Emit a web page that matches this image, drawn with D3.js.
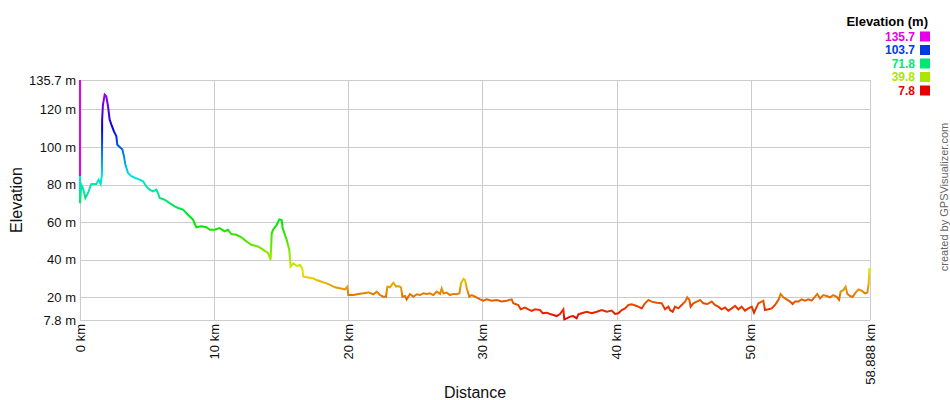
<!DOCTYPE html>
<html>
<head>
<meta charset="utf-8">
<script src="https://cdn.jsdelivr.net/npm/d3@7"></script>
<style>
  html, body { margin: 0; padding: 0; background: #fff; }
  svg { display: block; font-family: "Liberation Sans", Arial, sans-serif; }
</style>
</head>
<body>
<svg id="chart" width="950" height="400"></svg>
<script>
// ---- data ----
const distKm = [
  0, 0, 0, 0.10, 0.22, 0.40, 0.60, 0.84, 1.22, 1.39, 1.54, 1.64, 1.65, 1.71, 1.84, 1.96, 2.09, 2.21, 2.34, 2.53, 2.71,
  2.78, 2.96, 3.16, 3.28, 3.38, 3.58, 3.83, 4.12, 4.45, 4.70, 4.94, 5.19, 5.44, 5.69, 5.81, 5.94, 6.31, 6.68, 7.06, 7.31,
  7.68, 8.05, 8.42, 8.67, 9.04, 9.42, 9.67, 10.04, 10.41, 10.78, 11.03, 11.28, 11.65, 12.03, 12.40, 12.77, 13.27, 13.64, 14.01, 14.21,
  14.29, 14.41, 14.66, 14.86, 15.03, 15.11, 15.28, 15.41, 15.60, 15.70, 15.90, 16.15, 16.40, 16.57, 16.65, 17.02, 17.39, 17.64, 18.01, 18.39,
  18.64, 19.01, 19.38, 19.75, 19.93, 20.00, 20.38, 20.75, 21.12, 21.50, 21.87, 22.12, 22.36, 22.61, 22.81, 22.91, 23.11, 23.36, 23.56, 23.73,
  23.93, 24.03, 24.23, 24.35, 24.60, 24.85, 25.10, 25.35, 25.59, 25.84, 26.09, 26.34, 26.59, 26.84, 26.96, 27.09, 27.33, 27.58, 27.83, 28.08,
  28.28, 28.40, 28.58, 28.70, 28.83, 29.02, 29.20, 29.45, 29.70,
  29.82, 30.07, 30.31, 30.69, 31.06, 31.43, 31.81, 32.18, 32.30, 32.67, 32.85, 33.17, 33.42, 33.67, 33.92, 34.29, 34.49, 34.79, 35.04, 35.29,
  35.53, 35.78, 36.03, 36.10, 36.28, 36.53, 36.77, 37.02, 37.15, 37.40, 37.77, 38.15, 38.52, 38.89, 39.27, 39.64, 39.88, 40.13, 40.38, 40.63,
  40.88, 41.12, 41.50, 41.87, 42.12, 42.37, 42.61, 42.99, 43.36, 43.61, 43.86,
  43.98, 44.18, 44.35, 44.60, 44.85, 45.10, 45.27, 45.42, 45.52, 45.72, 45.97, 46.22, 46.46, 46.76, 47.09, 47.33, 47.58, 47.83, 48.08, 48.33,
  48.58, 48.83, 49.08, 49.32, 49.57, 49.82, 50.07, 50.24, 50.39, 50.57, 50.81, 50.94, 51.06, 51.31, 51.56, 51.81, 52.06, 52.23, 52.43, 52.68,
  52.93, 53.12, 53.30, 53.55, 53.79, 54.04, 54.29, 54.54, 54.79, 54.96, 55.16, 55.41, 55.66, 55.91, 56.15, 56.40, 56.58, 56.70, 56.90, 57.07,
  57.20, 57.40, 57.60, 57.77, 58.02, 58.27, 58.52, 58.69, 58.79, 58.84, 58.888
];
const elevM = [
  135.7, 84.5, 70.0, 79.9, 78.1, 72.8, 75.5, 80.3, 80.3, 82.6, 80.3, 85.2, 114.6, 122.5, 127.9, 127.0, 121.7, 114.6, 111.9, 108.3, 105.7,
  101.2, 100.0, 98.6, 95.0, 90.6, 86.1, 84.4, 83.5, 82.6, 81.7, 79.0, 77.3, 76.4, 77.3, 75.5, 72.8, 71.9, 70.1, 68.4, 67.5,
  66.6, 63.9, 61.3, 57.2, 57.7, 57.2, 55.9, 55.9, 56.8, 55.0, 55.9, 53.6, 53.2, 51.9, 49.7, 47.9, 47.0, 45.3, 43.5, 39.9,
  54.0, 56.1, 58.4, 61.4, 61.1, 56.6, 53.1, 50.4, 45.1, 36.2, 38.0, 36.6, 37.1, 35.3, 30.9, 30.5, 30.0, 29.1, 28.2, 27.3,
  26.5, 25.2, 24.7, 24.1, 25.6, 21.1, 21.1, 21.7, 22.0, 22.5, 21.5, 22.9, 21.1, 20.2, 20.2, 25.6, 25.2, 27.7, 25.6, 25.9,
  25.2, 20.2, 20.6, 18.8, 21.7, 20.2, 21.5, 21.1, 22.0, 21.7, 22.0, 21.1, 22.9, 21.7, 24.7, 22.0, 22.4, 21.1, 21.7, 21.5,
  22.0, 27.3, 29.8, 29.1, 24.7, 20.2, 21.1, 20.2, 19.3,
  18.8, 18.1, 18.8, 18.1, 18.5, 17.7, 18.1, 18.8, 16.7, 15.8, 13.5, 14.4, 13.5, 12.6, 13.5, 13.1, 11.4, 11.7, 11.0, 10.5,
  9.9, 11.0, 13.5, 8.2, 8.7, 9.6, 9.9, 8.7, 10.8, 11.4, 12.2, 11.4, 12.2, 13.1, 12.2, 12.8, 11.0, 11.4, 13.1, 14.0,
  15.8, 16.2, 15.3, 14.0, 16.7, 18.5, 17.6, 17.0, 16.7, 13.5, 14.9,
  13.1, 12.2, 14.9, 14.0, 15.8, 17.6, 19.9, 18.5, 14.9, 16.7, 17.6, 18.5, 16.7, 16.3, 17.6, 15.8, 14.9, 13.5, 14.5, 12.8,
  14.0, 15.3, 13.5, 14.9, 12.8, 14.0, 14.9, 11.7, 14.0, 16.7, 17.6, 18.1, 13.1, 13.5, 14.0, 15.8, 18.5, 21.7, 19.9, 18.8,
  17.6, 16.3, 17.6, 17.6, 18.8, 18.1, 18.8, 18.1, 20.2, 21.7, 19.3, 21.1, 20.6, 19.9, 21.1, 20.2, 18.5, 22.9, 23.8, 25.6,
  21.7, 20.6, 20.2, 22.0, 24.1, 23.4, 22.0, 22.4, 27.3, 35.3, 33.6
];
const yTicks = [7.8, 20, 40, 60, 80, 100, 120, 135.7];
const xTicks = [0, 10, 20, 30, 40, 50, 58.888];
const legendValues = [135.7, 103.7, 71.8, 39.8, 7.8];
const elevMin = 7.8, elevMax = 135.7, distMax = 58.888;

// ---- layout ----
const svg = d3.select("#chart");
const pLeft = 80, pRight = 870, pTop = 80, pBottom = 320;
const x = d3.scaleLinear().domain([0, distMax]).range([pLeft, pRight]);
const y = d3.scaleLinear().domain([elevMin, elevMax]).range([pBottom, pTop]);
const hue = d3.scaleLinear().domain([elevMin, elevMax]).range([0, 300]);
const colorOf = v => d3.hsl(hue(v), 1, 0.45).formatHex();
const gridColor = "#cccccc";

// grid
const g = svg.append("g");
g.selectAll("line.hg").data(yTicks).join("line")
  .attr("x1", pLeft).attr("x2", pRight)
  .attr("y1", d => Math.round(y(d)) + 0.5).attr("y2", d => Math.round(y(d)) + 0.5)
  .attr("stroke", gridColor).attr("stroke-width", 1);
g.selectAll("line.vg").data(xTicks).join("line")
  .attr("y1", pTop).attr("y2", pBottom)
  .attr("x1", d => Math.round(x(d)) + 0.5).attr("x2", d => Math.round(x(d)) + 0.5)
  .attr("stroke", gridColor).attr("stroke-width", 1);

// y labels
svg.append("g").selectAll("text").data(yTicks).join("text")
  .attr("x", pLeft - 4).attr("y", d => y(d)).attr("dy", "0.35em")
  .attr("text-anchor", "end").attr("font-size", 13).attr("fill", "#111")
  .text(d => d + " m");

// x labels (rotated)
svg.append("g").selectAll("text").data(xTicks).join("text")
  .attr("transform", d => `translate(${x(d)},${pBottom + 4}) rotate(-90)`)
  .attr("dy", "0.35em").attr("text-anchor", "end").attr("font-size", 13).attr("fill", "#111")
  .text(d => d + " km");

// axis titles
svg.append("text").attr("transform", "translate(22,200) rotate(-90)")
  .attr("text-anchor", "middle").attr("font-size", 16).attr("fill", "#111").text("Elevation");
svg.append("text").attr("x", 475).attr("y", 398)
  .attr("text-anchor", "middle").attr("font-size", 16).attr("fill", "#111").text("Distance");

// credit
svg.append("text").attr("transform", "translate(944,197) rotate(-90)")
  .attr("text-anchor", "middle").attr("dy", "0.35em").attr("font-size", 11).attr("fill", "#666")
  .text("created by GPSVisualizer.com");

// gradient by elevation
const defs = svg.append("defs");
const grad = defs.append("linearGradient").attr("id", "elevGrad")
  .attr("gradientUnits", "userSpaceOnUse")
  .attr("x1", 0).attr("x2", 0).attr("y1", y(elevMin)).attr("y2", y(elevMax));
d3.range(0, 31).forEach(i => {
  const t = i / 30;
  grad.append("stop").attr("offset", t).attr("stop-color", colorOf(elevMin + t * (elevMax - elevMin)));
});

const pts = distKm.map((d, i) => [d, elevM[i]]);
const line = d3.line().x(d => x(d[0])).y(d => y(d[1]));
// first segment coloured by its starting elevation, the rest by elevation gradient
svg.append("path").attr("d", line(pts.slice(0, 2)))
  .attr("fill", "none").attr("stroke", colorOf(pts[0][1])).attr("stroke-width", 2);
svg.append("path").attr("d", line(pts.slice(1)))
  .attr("fill", "none").attr("stroke", "url(#elevGrad)").attr("stroke-width", 2)
  .attr("stroke-linejoin", "miter");

// legend
const lg = svg.append("g");
lg.append("text").attr("x", 928).attr("y", 26).attr("text-anchor", "end")
  .attr("font-size", 13).attr("font-weight", "bold").attr("fill", "#000").text("Elevation (m)");
lg.selectAll("text.v").data(legendValues).join("text")
  .attr("x", 915).attr("y", (d, i) => 40.5 + i * 13.5).attr("text-anchor", "end")
  .attr("font-size", 12).attr("font-weight", "bold").attr("fill", d => colorOf(d)).text(d => d);
lg.selectAll("rect").data(legendValues).join("rect")
  .attr("x", 920).attr("y", (d, i) => 31.5 + i * 13.5).attr("width", 10).attr("height", 10)
  .attr("fill", d => colorOf(d));
</script>
</body>
</html>
